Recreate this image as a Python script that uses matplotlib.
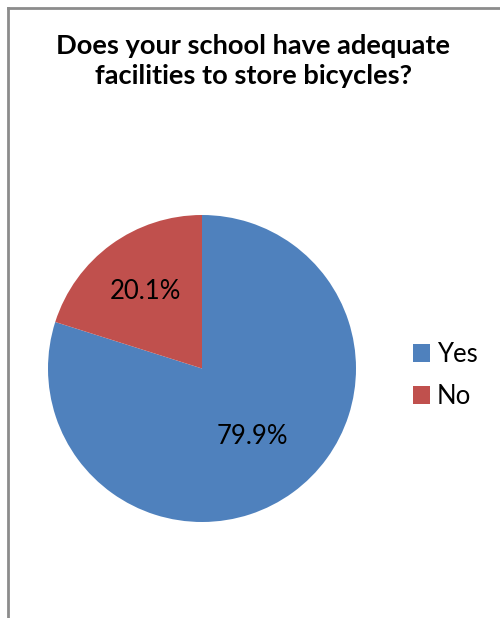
import numpy as np
import matplotlib.pyplot as plt
from matplotlib.lines import Line2D
from matplotlib.patches import Patch

# survey answers
labels = ['Yes', 'No']
shares = [79.9, 20.1]
colors = ['#4F81BD', '#C0504D']
label_dist = [0.55, 0.62]
title = 'Does your school have adequate\nfacilities to store bicycles?'

plt.rcParams['font.family'] = ['Lato', 'DejaVu Sans']

fig = plt.figure(figsize=(5, 6.18), dpi=100)

# grey frame, only top and left edges show
fig.add_artist(Line2D([0.016, 1.0], [1 - 8 / 618, 1 - 8 / 618], color='#8C8C8C', lw=2))
fig.add_artist(Line2D([0.016, 0.016], [0, 1 - 8 / 618], color='#8C8C8C', lw=2))

fig.text(253.5 / 500, 1 - 61 / 618, title, ha='center', va='center',
         fontsize=19.6, fontweight='bold', linespacing=1.28)

ax = fig.add_axes([48 / 500, 1 - 522 / 618, 308 / 500, 307 / 618])
wedges, texts, autotexts = ax.pie(
    shares, colors=colors, startangle=90, counterclock=False,
    autopct='%.1f%%', radius=1.0,
    wedgeprops=dict(linewidth=0),
    textprops=dict(fontsize=18.5, color='black'))

# put each percentage at its own distance along the wedge bisector
for w, t, d in zip(wedges, autotexts, label_dist):
    mid = np.deg2rad((w.theta1 + w.theta2) / 2)
    t.set_position((d * np.cos(mid), d * np.sin(mid)))

ax.set_xlim(-1, 1)
ax.set_ylim(-1, 1)
ax.set_aspect('auto')

handles = [Patch(facecolor=c, edgecolor='none') for c in colors]
fig.legend(handles, labels, loc='center left', bbox_to_anchor=(413 / 500, 1 - 375.5 / 618),
           frameon=False, fontsize=18.5, handlelength=0.68, handleheight=0.68,
           handletextpad=0.25, labelspacing=0.68, borderpad=0, borderaxespad=0)

fig.savefig('out.png', dpi=100)
